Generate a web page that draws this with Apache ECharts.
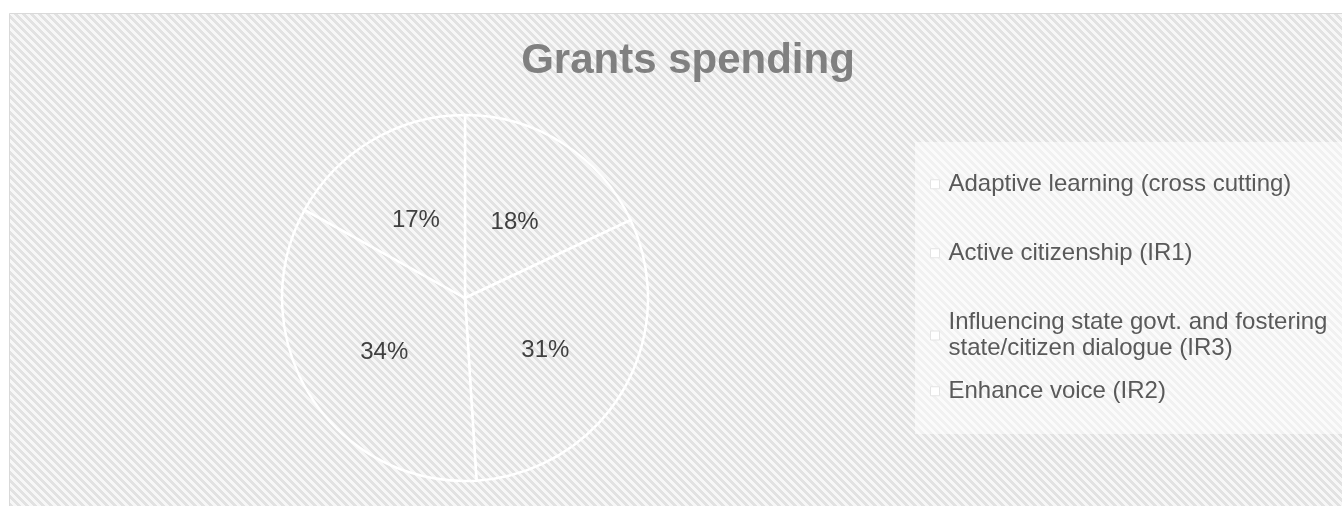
<!DOCTYPE html>
<html>
<head>
<meta charset="utf-8">
<script src="https://cdn.jsdelivr.net/npm/echarts@6/dist/echarts.min.js"></script>
<style>
  html, body { margin: 0; padding: 0; background: #ffffff; }
  #chart { width: 1342px; height: 506px; }
</style>
</head>
<body>
<div id="chart"></div>
<script>
// Grants spending by result area (share of total, %)
const categories = [
  'Adaptive learning (cross cutting)',
  'Active citizenship (IR1)',
  'Influencing state govt. and fostering state/citizen dialogue (IR3)',
  'Enhance voice (IR2)'
];
const shares = [18, 31, 34, 17];
const titleText = 'Grants spending';

// Diagonal hatch tile used for the chart area and the slices
function hatchTile(dark, light) {
  const c = document.createElement('canvas');
  c.width = 8; c.height = 8;
  const ctx = c.getContext('2d');
  for (let y = 0; y < 8; y++) {
    for (let x = 0; x < 8; x++) {
      ctx.fillStyle = ((x - y + 8) % 8) < 4 ? dark : light;
      ctx.fillRect(x, y, 1, 1);
    }
  }
  return c;
}
const hatch = { image: hatchTile('#e2e2e2', '#f7f7f7'), repeat: 'repeat' };

const FONT = '"Liberation Sans", Arial, sans-serif';

// Legend entries are placed one by one (the third one wraps to two lines)
const legendTops = [171, 240, 309, 378];
const legendText = {
  [categories[2]]: 'Influencing state govt. and fostering\nstate/citizen dialogue (IR3)'
};
const legends = categories.map((name, i) => ({
  data: [name],
  left: 930,
  top: legendTops[i],
  padding: 0,
  orient: 'vertical',
  icon: 'rect',
  itemWidth: 9,
  itemHeight: 9,
  selectedMode: false,
  itemStyle: { color: '#ffffff', borderColor: '#e4e4e4', borderWidth: 1 },
  formatter: n => legendText[n] || n,
  textStyle: {
    fontFamily: FONT,
    fontSize: 24,
    lineHeight: 26.5,
    color: '#595959',
    padding: [0, 0, 0, 4]
  }
}));

const chart = echarts.init(document.getElementById('chart'), null, { renderer: 'canvas' });
chart.setOption({
  animation: false,
  backgroundColor: '#ffffff',
  graphic: [
    {
      type: 'rect',
      z: 0,
      shape: { x: 9.5, y: 13.5, width: 1400, height: 600 },
      style: { fill: hatch, stroke: '#d9d9d9', lineWidth: 1 },
      silent: true
    },
    {
      type: 'rect',
      z: 1,
      shape: { x: 915, y: 142, width: 440, height: 292 },
      style: { fill: 'rgba(255,255,255,0.5)' },
      silent: true
    }
  ],
  title: {
    text: titleText,
    left: 683,
    top: 35,
    textAlign: 'center',
    textStyle: {
      fontFamily: FONT,
      fontSize: 42,
      fontWeight: 'bold',
      color: '#808080'
    }
  },
  legend: legends,
  series: [{
    type: 'pie',
    center: [465, 298],
    radius: 183,
    startAngle: 90,
    clockwise: true,
    avoidLabelOverlap: false,
    itemStyle: { color: hatch, borderColor: '#ffffff', borderWidth: 2.5 },
    emphasis: { disabled: true },
    label: {
      show: true,
      position: 'inside',
      formatter: '{c}%',
      fontFamily: FONT,
      fontSize: 24,
      color: '#404040',
      offset: [-1, 4]
    },
    labelLine: { show: false },
    data: categories.map((name, i) => ({ name, value: shares[i] }))
  }]
});
</script>
</body>
</html>
